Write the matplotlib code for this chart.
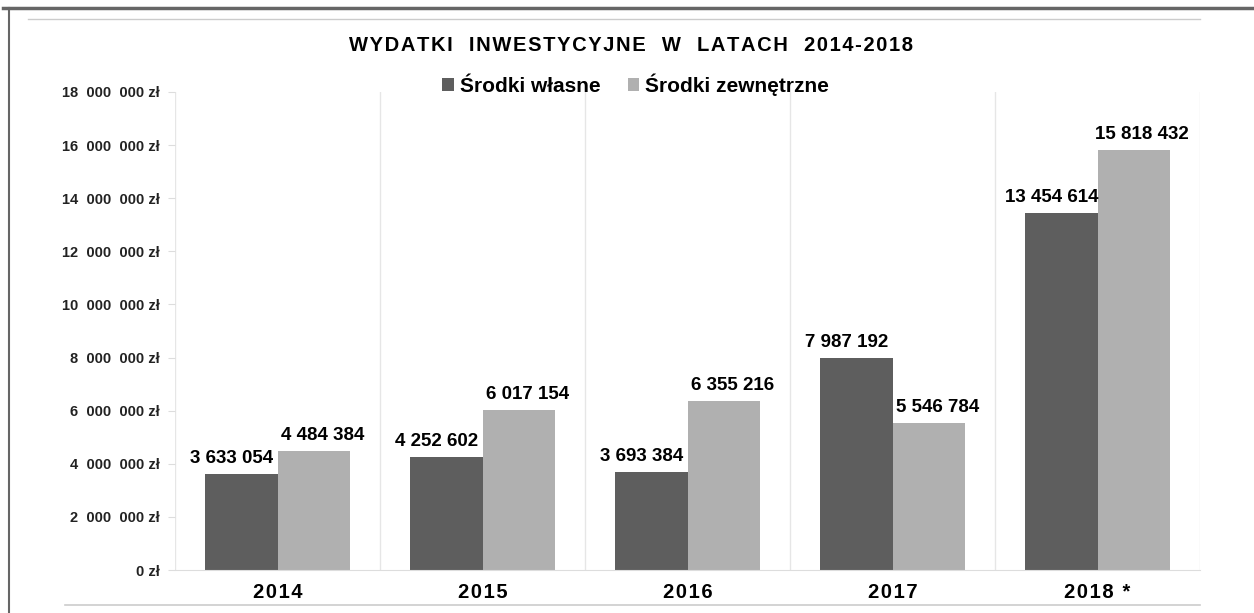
import matplotlib.pyplot as plt
import numpy as np
from matplotlib.lines import Line2D

# data
years = ['2014', '2015', '2016', '2017', '2018 *']
wlasne = [3633054, 4252602, 3693384, 7987192, 13454614]
zewnetrzne = [4484384, 6017154, 6355216, 5546784, 15818432]

dark = '#5e5e5e'
light = '#b0b0b0'

plt.rcParams['font.family'] = ['Liberation Sans', 'DejaVu Sans']

def fmt(v):
    return f'{v:,}'.replace(',', ' ')

def spaced(s):
    # light letter spacing with hair spaces
    return '\u200a'.join(s)

fig = plt.figure(figsize=(12.54, 6.13), dpi=100)
ax = fig.add_axes([0.1396, 0.0701, 0.8174, 0.7799])

x = np.arange(len(years))
w = 0.355
b1 = ax.bar(x - w / 2, wlasne, w, color=dark, label='Środki własne')
b2 = ax.bar(x + w / 2, zewnetrzne, w, color=light, label='Środki zewnętrzne')

for bars, vals, dx in ((b1, wlasne, -7), (b2, zewnetrzne, 6)):
    for r, v in zip(bars, vals):
        ax.annotate(fmt(v), (r.get_x() + r.get_width() / 2, v), xytext=(dx, 5),
                    textcoords='offset points', ha='center', va='bottom',
                    fontsize=13.5, fontweight='bold')

ax.set_xlim(-0.5, len(years) - 0.5)
ax.set_ylim(0, 18000000)
ax.set_yticks(np.arange(0, 18000001, 2000000))
ax.set_yticklabels([fmt(int(t)).replace(' ', '  ') + ' zł' for t in ax.get_yticks()],
                   fontsize=10.5, fontweight='bold', color='#222222')
ax.set_xticks(x)
ax.set_xticklabels([spaced(y) for y in years], fontsize=14.5, fontweight='bold')
ax.tick_params(axis='x', length=0, pad=9)
ax.tick_params(axis='y', length=5, color='#dddddd', pad=6)

# category separators
for s in np.arange(-0.5, len(years) + 0.5, 1):
    ax.axvline(s, color='#e6e6e6', lw=1, zorder=0)
for sp in ['top', 'right', 'left']:
    ax.spines[sp].set_visible(False)
ax.spines['bottom'].set_color('#dddddd')

# title and legend
fig.text(0.503, 0.925, spaced('WYDATKI  INWESTYCYJNE  W  LATACH  2014-2018'),
         ha='center', va='center', fontsize=14.5, fontweight='bold')
fig.legend(handles=[b1, b2], loc='center', bbox_to_anchor=(0.507, 0.862), ncol=2,
           frameon=False, prop={'size': 15, 'weight': 'bold'},
           handlelength=0.55, handleheight=0.55, handletextpad=0.3, columnspacing=1.3)

# frame lines
fig.add_artist(Line2D([0.002, 1], [0.987, 0.987], color='#666666', lw=2.5))
fig.add_artist(Line2D([0.007, 0.007], [0, 0.987], color='#666666', lw=1.5))
fig.add_artist(Line2D([0.022, 0.957], [0.969, 0.969], color='#cccccc', lw=1))
fig.add_artist(Line2D([0.052, 0.957], [0.013, 0.013], color='#cccccc', lw=1.2))

plt.savefig('out.png', dpi=100)
